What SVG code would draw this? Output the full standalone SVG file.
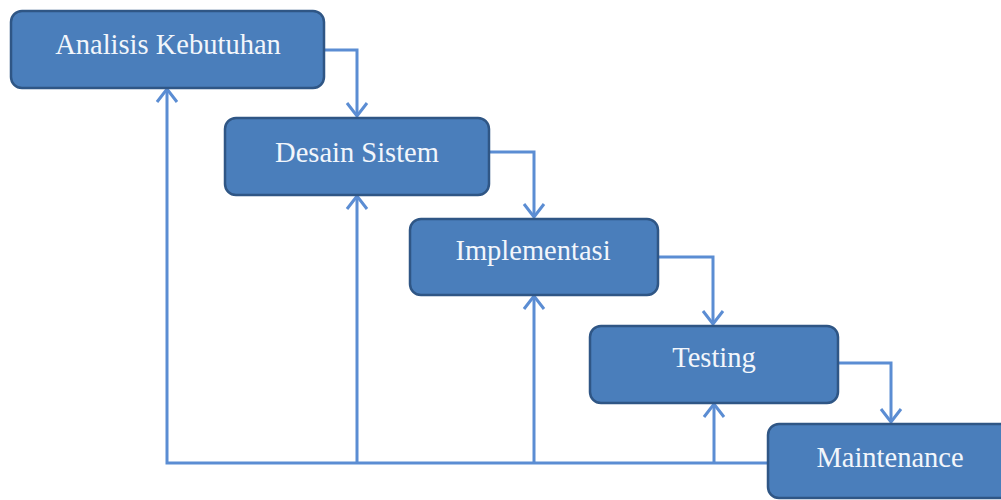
<svg xmlns="http://www.w3.org/2000/svg" width="1001" height="500" viewBox="0 0 1001 500">
<style>
.box{fill:#4a7ebb;stroke:#2f5685;stroke-width:2.5}
.lbl{font-family:"Liberation Serif","Times New Roman",serif;font-size:28.5px;fill:#f2f6fb;text-anchor:middle}
.con{fill:none;stroke:#5b8dd3;stroke-width:3}
</style>
<defs>
<marker id="arr" viewBox="-15 -12 17 24" refX="0" refY="0" markerWidth="17" markerHeight="24" markerUnits="userSpaceOnUse" orient="auto">
<path d="M-13,-10 L0,0 L-13,10" fill="none" stroke="#5b8dd3" stroke-width="3"/>
</marker>
</defs>
<rect width="1001" height="500" fill="#ffffff"/>
<g id="connectors">
<path class="con" d="M324,50 H357 V116" marker-end="url(#arr)"/>
<path class="con" d="M489,152 H534 V217" marker-end="url(#arr)"/>
<path class="con" d="M658,257 H713 V324" marker-end="url(#arr)"/>
<path class="con" d="M838,363 H891 V422" marker-end="url(#arr)"/>
<path class="con" d="M768,463 H167 V89" marker-end="url(#arr)"/>
<path class="con" d="M357,463 V196" marker-end="url(#arr)"/>
<path class="con" d="M534,463 V296" marker-end="url(#arr)"/>
<path class="con" d="M714,463 V404" marker-end="url(#arr)"/>
</g>
<g id="node-analisis">
<rect class="box" x="11" y="11" width="313" height="77" rx="11"/>
<text class="lbl" x="168" y="54">Analisis Kebutuhan</text>
</g>
<g id="node-desain">
<rect class="box" x="225" y="118" width="264" height="77" rx="11"/>
<text class="lbl" x="357" y="162">Desain Sistem</text>
</g>
<g id="node-implementasi">
<rect class="box" x="410" y="219" width="248" height="76" rx="11"/>
<text class="lbl" x="533" y="260">Implementasi</text>
</g>
<g id="node-testing">
<rect class="box" x="590" y="326" width="248" height="77" rx="11"/>
<text class="lbl" x="714" y="367">Testing</text>
</g>
<g id="node-maintenance">
<rect class="box" x="768" y="424" width="250" height="74" rx="11"/>
<text class="lbl" x="890" y="467">Maintenance</text>
</g>
</svg>
